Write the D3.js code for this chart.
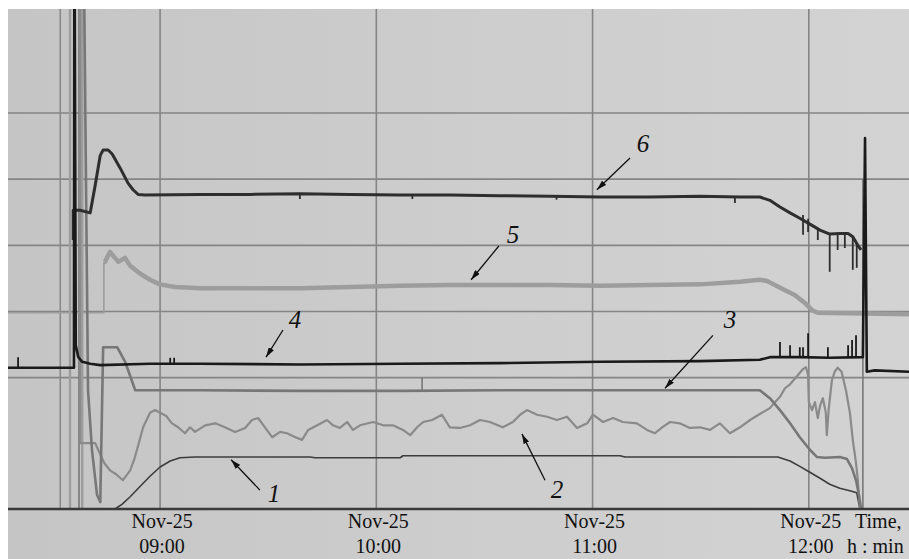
<!DOCTYPE html>
<html><head><meta charset="utf-8">
<script src="https://cdn.jsdelivr.net/npm/d3@7"></script>
<style>html,body{margin:0;padding:0;background:#fff;} svg{display:block}</style>
</head><body><svg id="c" width="909" height="559"></svg>
<script>
// ---- data (x: minutes after 09:00 on Nov-25, y: recorder scale units) ----
const tickMinutes = [0, 60, 120, 180];
const tickDates = ["Nov-25", "Nov-25", "Nov-25", "Nov-25"];
const tickTimes = ["09:00", "10:00", "11:00", "12:00"];
const gridValues = [20, 30, 40, 50, 60];

const s1 = [[-12.5,0.15],[-10.5,0.9],[-8.3,2.0],[-5.5,3.6],[-2.8,5.1],[0,6.5],[2.8,7.4],[5.5,7.9],[9.7,8.0],[41.6,8.0],[43.0,7.9],[66.6,7.9],[67.4,8.2],[87.9,8.2],[88.8,8.2],[127.6,8.2],[129.0,8.0],[171.4,8.0],[174.8,7.4],[177.5,6.6],[180.3,5.7],[183.1,4.8],[185.8,3.9],[188.6,3.3],[191.4,2.9],[193.3,2.6],[194.2,0.15]];

const s2 = [[-22.2,80],[-22.2,10.1],[-18.0,10.1],[-15.5,7.1],[-13.9,6.0],[-12.2,5.4],[-10.3,4.5],[-8.3,6.0],[-7.2,7.6],[-6.1,9.7],[-4.7,12.5],[-2.8,14.7],[-1.4,15.1],[0,14.7],[1.7,14.2],[3.3,13.1],[5.0,12.5],[6.9,11.6],[8.3,12.5],[9.7,11.8],[12.5,12.8],[15.3,13.1],[18.0,12.5],[20.8,11.8],[23.6,12.4],[25.5,13.6],[27.2,13.9],[29.1,12.5],[31.1,11.0],[33.3,11.8],[35.2,11.6],[38.0,10.9],[39.4,10.6],[41.1,12.1],[43.6,12.8],[46.3,13.6],[48.0,12.8],[49.9,12.4],[51.9,13.3],[53.5,12.1],[55.5,12.8],[59.1,13.3],[61.9,12.8],[64.6,12.8],[67.4,12.1],[69.4,11.3],[71.3,12.5],[73.0,13.3],[75.5,13.6],[78.2,14.4],[80.4,12.5],[83.2,12.4],[86.0,12.8],[88.8,13.6],[91.5,13.3],[95.1,12.5],[97.9,13.3],[99.9,14.4],[101.8,15.1],[104.6,14.4],[107.4,14.1],[110.1,13.6],[112.9,14.1],[115.7,12.4],[118.5,13.1],[120.1,14.4],[122.9,13.3],[125.7,13.9],[128.4,13.3],[132.3,13.1],[135.1,12.1],[137.3,11.6],[139.3,12.5],[141.5,13.3],[144.2,13.1],[147.0,12.4],[149.8,12.5],[152.6,12.1],[155.3,13.1],[158.1,11.6],[160.9,12.5],[163.7,13.6],[166.4,14.5],[169.2,15.4],[170.6,16.3],[172.0,17.1],[173.4,18.4],[174.8,19.0],[176.7,20.2],[178.4,21.3],[179.2,21.6],[179.8,20.4],[180.0,16.3],[180.9,15.1],[181.7,16.3],[182.5,13.9],[183.1,15.7],[183.9,16.9],[184.7,14.8],[185.0,11.3],[185.5,15.1],[186.4,19.6],[187.2,20.9],[188.0,21.5],[189.1,20.9],[190.3,18.1],[191.4,14.7],[192.2,10.6],[193.1,7.1],[193.6,4.5],[194.2,0.15]];

const s3 = [[-21.1,80],[-20.0,18.1],[-18.9,9.1],[-17.5,2.3],[-16.6,1.2],[-15.8,24.6],[-11.9,24.6],[-9.7,22.4],[-6.9,18.1],[-4.2,18.1],[11.1,18.1],[38.8,18.0],[66.6,18.0],[94.3,18.1],[122.1,18.1],[149.8,18.1],[166.4,18.1],[169.2,16.9],[172.0,15.1],[174.8,13.1],[177.5,11.0],[180.3,9.1],[182.3,8.0],[184.4,7.9],[188.6,8.0],[190.6,7.7],[192.0,6.3],[193.1,4.5],[193.9,2.3],[194.5,0.15]];

const s4 = [[-42.2,21.5],[-23.9,21.5],[-23.8,80],[-23.7,80],[-23.4,24.9],[-22.7,23.1],[-21.6,22.4],[-19.4,22.1],[-16.6,21.9],[-2.8,22.1],[11.1,22.1],[38.8,22.0],[66.6,22.1],[94.3,22.2],[122.1,22.4],[149.8,22.5],[166.4,22.7],[169.2,23.1],[177.5,23.1],[185.8,23.0],[195.0,23.1],[195.6,56.2],[196.1,20.9],[198.3,21.1],[207.8,20.9]];

const s5pre = [[-42.2,29.8],[-15.6,29.8],[-15.6,37.5]];
const s5 = [[-15.6,37.5],[-15.3,37.5],[-13.9,39.0],[-11.6,37.5],[-9.7,38.1],[-8.3,36.9],[-5.5,35.7],[-2.8,34.8],[0,34.1],[4.2,33.7],[11.1,33.5],[25.0,33.5],[38.8,33.5],[52.7,33.7],[66.6,33.9],[80.4,34.0],[94.3,34.0],[108.2,34.0],[122.1,33.9],[135.9,34.0],[149.8,34.1],[160.9,34.5],[166.4,34.8],[168.4,34.6],[170.6,34.0],[173.4,33.2],[176.1,32.5],[178.9,31.3],[180.9,30.2],[182.5,29.8],[207.8,29.6]];

const s6 = [[-24.1,40.8],[-24.1,45.3],[-22.2,45.3],[-19.4,44.9],[-18.0,49.1],[-16.6,53.6],[-15.8,54.4],[-14.4,54.4],[-13.3,53.8],[-11.1,51.7],[-8.9,49.4],[-7.5,48.4],[-6.1,47.7],[-4.2,47.6],[11.1,47.7],[25.0,47.7],[38.8,47.8],[52.7,47.7],[66.6,47.6],[80.4,47.6],[94.3,47.5],[108.2,47.4],[122.1,47.3],[135.9,47.3],[149.8,47.4],[160.9,47.3],[166.4,47.3],[169.2,46.8],[172.0,45.8],[174.8,44.9],[177.5,44.1],[180.3,43.2],[183.1,42.3],[185.8,41.7],[188.6,41.8],[190.9,41.8],[192.2,41.3],[193.6,40.0],[194.5,39.3]];

// short vertical excursions: [minute, base value, tip value]
const s3Spikes = [[72.7,18.1,20.0]];
const s4Spikes = [[-39.4,21.5,23.1],[2.8,22.1,23.0],[3.9,22.1,23.0],[172.0,23.1,25.4],[174.8,23.1,24.9],[177.5,23.1,24.6],[178.4,23.1,24.6],[179.8,23.1,26.7],[185.3,23.0,24.6],[190.9,23.1,24.9],[192.0,23.1,25.7],[193.1,23.1,26.4]];
const s6Spikes = [[38.8,47.8,47.0],[70.0,47.6,47.0],[110.0,47.4,46.9],[159.5,47.3,46.4],[178.4,44.6,41.6],[179.8,44.0,42.0],[182.5,42.6,40.8],[185.8,41.7,36.0],[188.0,41.8,39.3],[190.0,41.8,39.6],[192.2,41.3,36.3],[193.3,40.5,36.6]];

// off-scale start/stop transients: minute, top value, series
const transientMinutes = [-27.7, -25.0, -22.5, -21.6, 195.0];
const transientTops = [80, 80, 80, 80, 50];
const transientSeries = [2, 5, 3, 5, 3];

// curve labels: label, label pos, arrow tail, arrow tip (minute, value)
const labels = ["1", "2", "3", "4", "5", "6"];
const labelPos = [[31.6,1.2],[110.1,1.8],[158.1,27.5],[37.4,27.5],[97.9,40.3],[134.0,54.1]];
const arrowTail = [[27.7,3.0],[106.8,4.5],[153.4,26.4],[34.1,27.2],[94.0,39.9],[130.4,53.2]];
const arrowTip = [[19.7,7.6],[100.4,11.5],[140.1,18.4],[29.4,23.1],[86.3,34.8],[121.2,48.4]];

// ---- drawing ----
const W = 909, H = 559;
const L = 8, R = 909, T = 9, B = 509;
const svg = d3.select("#c");
const defs = svg.append("defs");
const grad = defs.append("linearGradient").attr("id", "bg").attr("x1", 0).attr("x2", 1).attr("y1", 0).attr("y2", 0);
grad.append("stop").attr("offset", 0).attr("stop-color", "#c5c5c5");
grad.append("stop").attr("offset", 0.5).attr("stop-color", "#cdcdcd");
grad.append("stop").attr("offset", 1).attr("stop-color", "#d3d3d3");
defs.append("clipPath").attr("id", "clip").append("rect").attr("x", L).attr("y", T).attr("width", R - L).attr("height", B - T + 2);
defs.append("marker").attr("id", "ah").attr("viewBox", "0 0 10 6").attr("refX", 10).attr("refY", 3)
  .attr("markerWidth", 10).attr("markerHeight", 6).attr("markerUnits", "userSpaceOnUse").attr("orient", "auto")
  .append("path").attr("d", "M0,0 L10,3 L0,6 Z").attr("fill", "#111");

svg.append("rect").attr("width", W).attr("height", H).attr("fill", "#fff");
svg.append("rect").attr("x", L).attr("y", T).attr("width", W - L).attr("height", H - T).attr("fill", "url(#bg)");

const x = d3.scaleLinear().domain([-42.2, 207.8]).range([L, R]);
const y = d3.scaleLinear().domain([0, 60]).range([510, 113]);

const grid = svg.append("g");
grid.selectAll(".h").data(gridValues).join("line")
  .attr("x1", L).attr("x2", R).attr("y1", d => y(d)).attr("y2", d => y(d))
  .attr("stroke", "#858585").attr("stroke-width", 1.6);
grid.selectAll(".v").data(tickMinutes).join("line")
  .attr("x1", d => x(d)).attr("x2", d => x(d)).attr("y1", T).attr("y2", B)
  .attr("stroke", "#858585").attr("stroke-width", 1.6);

const plot = svg.append("g").attr("clip-path", "url(#clip)");
const line = d3.line().x(d => x(d[0])).y(d => y(d[1]));

const styles = {
  1: {c: "#3c3c3c", w: 1.6},
  2: {c: "#8a8a8a", w: 2.2},
  3: {c: "#777777", w: 2.6},
  4: {c: "#1a1a1a", w: 3},
  5: {c: "#9d9d9d", w: 4.5},
  6: {c: "#2e2e2e", w: 3}
};

// transients
plot.selectAll(".tr").data(transientMinutes).join("line")
  .attr("x1", d => x(d)).attr("x2", d => x(d))
  .attr("y1", y(0)).attr("y2", (d, i) => y(transientTops[i]))
  .attr("stroke", (d, i) => styles[transientSeries[i]].c)
  .attr("stroke-width", (d, i) => transientSeries[i] === 5 ? 2.4 : 1.6);

function drawSeries(data, k, wOverride) {
  plot.append("path").datum(data).attr("d", line).attr("fill", "none")
    .attr("stroke", styles[k].c).attr("stroke-width", wOverride || styles[k].w)
    .attr("stroke-linejoin", "round");
}
function drawSpikes(data, k, w) {
  plot.append("g").selectAll("line").data(data).join("line")
    .attr("x1", d => x(d[0])).attr("x2", d => x(d[0]))
    .attr("y1", d => y(d[1])).attr("y2", d => y(d[2]))
    .attr("stroke", styles[k].c).attr("stroke-width", w);
}

drawSeries(s5pre, 5, 1.6);
drawSeries(s5, 5);
drawSeries(s1, 1);
drawSeries(s2, 2);
drawSeries(s3, 3);
drawSpikes(s3Spikes, 3, 1.6);
drawSeries(s6, 6);
drawSpikes(s6Spikes, 6, 1.8);
drawSeries(s4, 4, 2.6);
drawSpikes(s4Spikes, 4, 1.8);

// bottom axis line
svg.append("line").attr("x1", L).attr("x2", R).attr("y1", B).attr("y2", B)
  .attr("stroke", "#3a3a3a").attr("stroke-width", 2.4);

// tick labels
const font = "'Liberation Serif', 'Times New Roman', serif";
const tl = svg.append("g").attr("font-family", font).attr("font-size", 20).attr("fill", "#111").attr("text-anchor", "middle");
tl.selectAll(".d").data(tickMinutes).join("text").attr("x", d => x(d) + 2).attr("y", 528).text((d, i) => tickDates[i]);
tl.selectAll(".t").data(tickMinutes).join("text").attr("x", d => x(d) + 2).attr("y", 553).text((d, i) => tickTimes[i]);
svg.append("text").attr("x", 855).attr("y", 528).attr("font-family", font).attr("font-size", 20).attr("fill", "#111").text("Time,");
svg.append("text").attr("x", 847).attr("y", 553).attr("font-family", font).attr("font-size", 20).attr("fill", "#111").text("h : min");

// curve labels and arrows
const ann = svg.append("g");
ann.selectAll("line").data(labels).join("line")
  .attr("x1", (d, i) => x(arrowTail[i][0])).attr("y1", (d, i) => y(arrowTail[i][1]))
  .attr("x2", (d, i) => x(arrowTip[i][0])).attr("y2", (d, i) => y(arrowTip[i][1]))
  .attr("stroke", "#111").attr("stroke-width", 1.3).attr("marker-end", "url(#ah)");
ann.selectAll("text").data(labels).join("text")
  .attr("x", (d, i) => x(labelPos[i][0])).attr("y", (d, i) => y(labelPos[i][1]))
  .attr("text-anchor", "middle").attr("font-family", font).attr("font-style", "italic")
  .attr("font-size", 25).attr("fill", "#111").text(d => d);
</script></body></html>
